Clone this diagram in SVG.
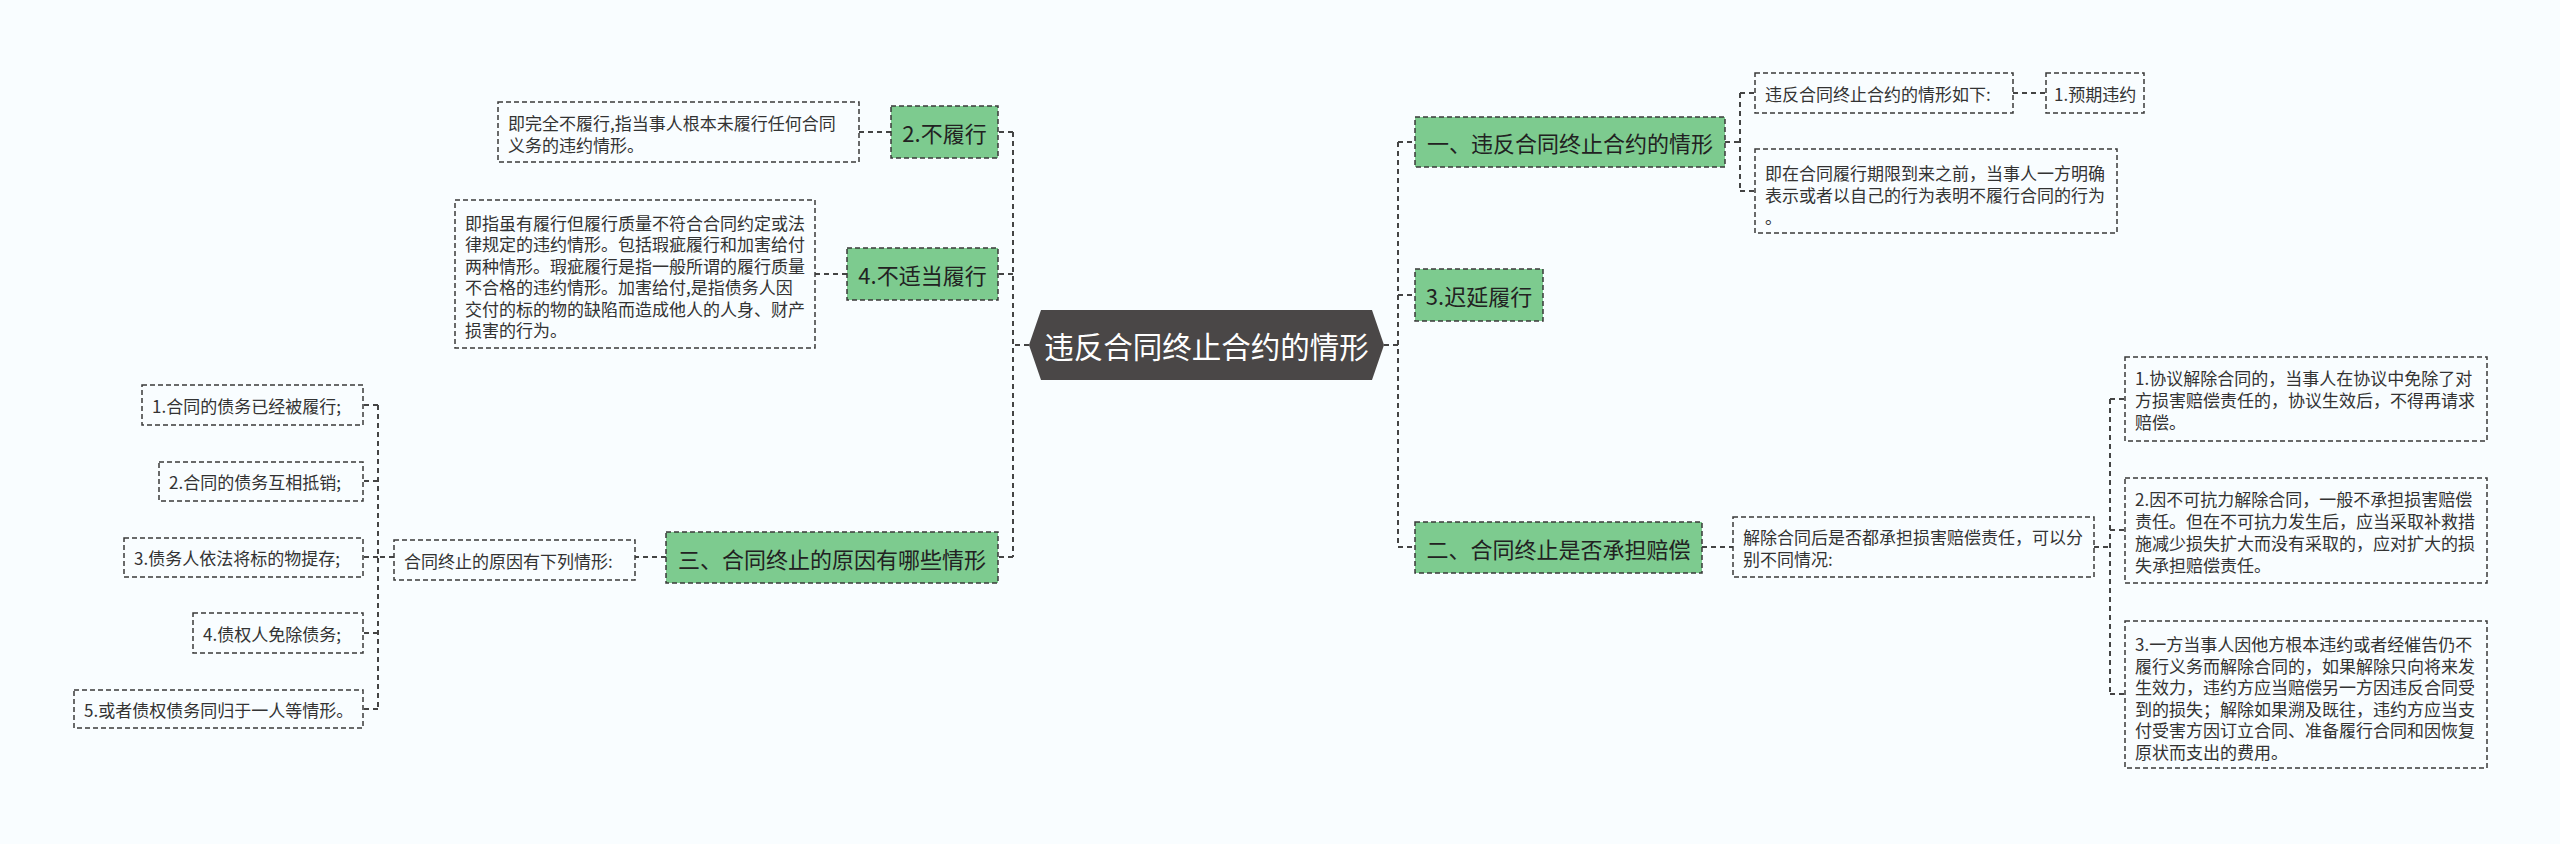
<svg xmlns="http://www.w3.org/2000/svg" width="2560" height="844" viewBox="0 0 2560 844">
<defs>
<style>
.bg{fill:#f9fdff}
.box{fill:#f9fdff;stroke:#3a3a3a;stroke-width:1.5;stroke-dasharray:5 3}
.green{fill:#7dcb8f;stroke:#3a3a3a;stroke-width:1.5;stroke-dasharray:5 3}
.hex{fill:#4a4747}
.t{font-family:"Noto Sans CJK SC","Noto Sans",sans-serif;font-size:17px;fill:#333;dominant-baseline:central}
.gt{font-family:"Noto Sans CJK SC","Noto Sans",sans-serif;font-size:22px;fill:#222;dominant-baseline:central;text-anchor:middle}
.ct{font-family:"Noto Sans CJK SC","Noto Sans",sans-serif;font-size:29.5px;fill:#fff;dominant-baseline:central;text-anchor:middle}
.c{fill:none;stroke:#444;stroke-width:2;stroke-dasharray:5 4}
</style>
</defs>
<rect class="bg" x="0" y="0" width="2560" height="844"/>

<g id="connectors">
<path class="c" d="M1029,345 H1013 M1013,132 V557 M1013,132 H998 M1013,274 H998 M1013,557 H998"/>
<path class="c" d="M891,132 H859 M847,274 H815 M666,557 H635"/>
<path class="c" d="M394,557 H378 M378,405 V709 M378,405 H363 M378,481 H363 M378,557 H363 M378,633 H363 M378,709 H363"/>
<path class="c" d="M1384,345 H1398 M1398,142 V547 M1398,142 H1415 M1398,295 H1415 M1398,547 H1415"/>
<path class="c" d="M1725,142 H1740 M1740,93 V191 M1740,93 H1755 M1740,191 H1755 M2013,93 H2046"/>
<path class="c" d="M1702,547 H1733 M2094,547 H2110 M2110,399 V694 M2110,399 H2125 M2110,530 H2125 M2110,694 H2125"/>
</g>

<g id="center">
<polygon class="hex" points="1029,345 1041,310 1372,310 1384,345 1372,380 1041,380"/>
<text class="ct" x="1206.5" y="345">违反合同终止合约的情形</text>
</g>

<g id="n-buluxing">
<rect class="green" x="891" y="106" width="107" height="52"/>
<text class="gt" x="944.5" y="132">2.不履行</text>
</g>
<g id="n-buluxing-desc">
<rect class="box" x="498" y="102" width="361" height="60"/>
<text class="t" x="508" y="122">即完全不履行,指当事人根本未履行任何合同</text>
<text class="t" x="508" y="144">义务的违约情形。</text>
</g>

<g id="n-bushidang">
<rect class="green" x="847" y="248" width="151" height="52"/>
<text class="gt" x="922.5" y="274">4.不适当履行</text>
</g>
<g id="n-bushidang-desc">
<rect class="box" x="455" y="200" width="360" height="148"/>
<text class="t" x="465" y="222">即指虽有履行但履行质量不符合合同约定或法</text>
<text class="t" x="465" y="243.5">律规定的违约情形。包括瑕疵履行和加害给付</text>
<text class="t" x="465" y="265">两种情形。瑕疵履行是指一般所谓的履行质量</text>
<text class="t" x="465" y="286.5">不合格的违约情形。加害给付,是指债务人因</text>
<text class="t" x="465" y="308">交付的标的物的缺陷而造成他人的人身、财产</text>
<text class="t" x="465" y="329.5">损害的行为。</text>
</g>

<g id="n-san">
<rect class="green" x="666" y="532" width="332" height="51"/>
<text class="gt" x="832" y="557.5">三、合同终止的原因有哪些情形</text>
</g>
<g id="n-reason">
<rect class="box" x="394" y="540" width="241" height="40"/>
<text class="t" x="404" y="560">合同终止的原因有下列情形:</text>
</g>
<g id="n-r1">
<rect class="box" x="142" y="385" width="221" height="40"/>
<text class="t" x="152" y="405">1.合同的债务已经被履行;</text>
</g>
<g id="n-r2">
<rect class="box" x="159" y="462" width="204" height="39"/>
<text class="t" x="169" y="481.5">2.合同的债务互相抵销;</text>
</g>
<g id="n-r3">
<rect class="box" x="124" y="538" width="239" height="39"/>
<text class="t" x="134" y="557.5">3.债务人依法将标的物提存;</text>
</g>
<g id="n-r4">
<rect class="box" x="193" y="613" width="170" height="40"/>
<text class="t" x="203" y="633">4.债权人免除债务;</text>
</g>
<g id="n-r5">
<rect class="box" x="74" y="690" width="289" height="38"/>
<text class="t" x="84" y="709">5.或者债权债务同归于一人等情形。</text>
</g>

<g id="n-yi">
<rect class="green" x="1415" y="117" width="310" height="50"/>
<text class="gt" x="1570" y="142">一、违反合同终止合约的情形</text>
</g>
<g id="n-yi-list">
<rect class="box" x="1755" y="73" width="258" height="40"/>
<text class="t" x="1765" y="93">违反合同终止合约的情形如下:</text>
</g>
<g id="n-yuqi">
<rect class="box" x="2046" y="73" width="98" height="40"/>
<text class="t" x="2054" y="93">1.预期违约</text>
</g>
<g id="n-yuqi-desc">
<rect class="box" x="1755" y="149" width="362" height="84"/>
<text class="t" x="1765" y="172">即在合同履行期限到来之前，当事人一方明确</text>
<text class="t" x="1765" y="194">表示或者以自己的行为表明不履行合同的行为</text>
<text class="t" x="1765" y="216">。</text>
</g>

<g id="n-chiyan">
<rect class="green" x="1415" y="269" width="128" height="52"/>
<text class="gt" x="1479" y="295">3.迟延履行</text>
</g>

<g id="n-er">
<rect class="green" x="1415" y="522" width="287" height="51"/>
<text class="gt" x="1558.5" y="547.5">二、合同终止是否承担赔偿</text>
</g>
<g id="n-er-desc">
<rect class="box" x="1733" y="517" width="361" height="60"/>
<text class="t" x="1743" y="536">解除合同后是否都承担损害赔偿责任，可以分</text>
<text class="t" x="1743" y="558">别不同情况:</text>
</g>
<g id="n-er-1">
<rect class="box" x="2125" y="357" width="362" height="84"/>
<text class="t" x="2135" y="377">1.协议解除合同的，当事人在协议中免除了对</text>
<text class="t" x="2135" y="399">方损害赔偿责任的，协议生效后，不得再请求</text>
<text class="t" x="2135" y="421">赔偿。</text>
</g>
<g id="n-er-2">
<rect class="box" x="2125" y="478" width="362" height="105"/>
<text class="t" x="2135" y="498">2.因不可抗力解除合同，一般不承担损害赔偿</text>
<text class="t" x="2135" y="520">责任。但在不可抗力发生后，应当采取补救措</text>
<text class="t" x="2135" y="542">施减少损失扩大而没有采取的，应对扩大的损</text>
<text class="t" x="2135" y="564">失承担赔偿责任。</text>
</g>
<g id="n-er-3">
<rect class="box" x="2125" y="621" width="362" height="147"/>
<text class="t" x="2135" y="643">3.一方当事人因他方根本违约或者经催告仍不</text>
<text class="t" x="2135" y="665">履行义务而解除合同的，如果解除只向将来发</text>
<text class="t" x="2135" y="686">生效力，违约方应当赔偿另一方因违反合同受</text>
<text class="t" x="2135" y="708">到的损失；解除如果溯及既往，违约方应当支</text>
<text class="t" x="2135" y="729">付受害方因订立合同、准备履行合同和因恢复</text>
<text class="t" x="2135" y="751">原状而支出的费用。</text>
</g>
</svg>
